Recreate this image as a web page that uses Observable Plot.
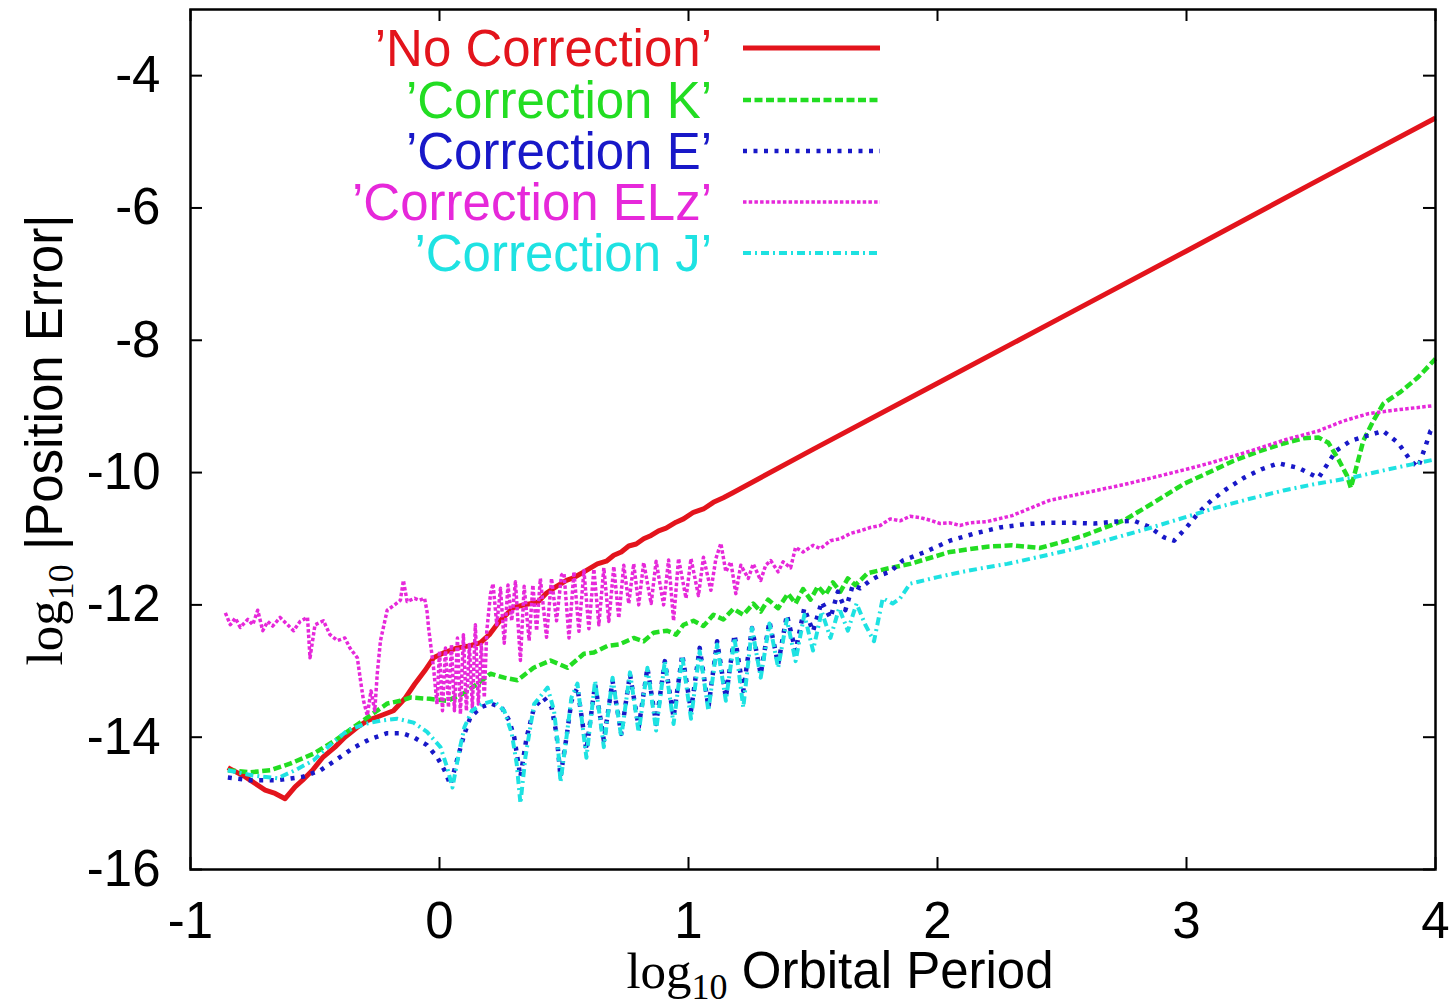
<!DOCTYPE html>
<html>
<head>
<meta charset="utf-8">
<script src="https://cdn.jsdelivr.net/npm/d3@7"></script>
<script src="https://cdn.jsdelivr.net/npm/@observablehq/plot@0.6"></script>
<style>
  html, body { margin: 0; padding: 0; background: #ffffff; }
  #chart { width: 1453px; height: 1005px; }
  svg text { font-family: "Liberation Sans", Arial, Helvetica, sans-serif; }
</style>
</head>
<body>
<div id="chart"></div>
<script>
// Axis ticks
const xTicks = [-1, 0, 1, 2, 3, 4];
const yTicks = [-16, -14, -12, -10, -8, -6, -4];

// log10 |position error| against log10 orbital period, one array per method: [x, y]
const noCorrection = [
  [-0.85,-14.46],[-0.78,-14.6],[-0.70,-14.8],[-0.66,-14.85],[-0.62,-14.93],[-0.58,-14.75],[-0.55,-14.65],
  [-0.51,-14.5],[-0.47,-14.31],[-0.42,-14.15],[-0.38,-14.0],[-0.33,-13.85],[-0.29,-13.75],[-0.24,-13.68],
  [-0.185,-13.6],[-0.14,-13.42],[-0.10,-13.2],[-0.06,-13.0],[-0.024,-12.8],[0.02,-12.72],[0.072,-12.65],
  [0.12,-12.62],[0.165,-12.57],[0.20,-12.45],[0.24,-12.25],[0.297,-12.04],[0.34,-12.0],[0.394,-11.96],
  [0.43,-11.82],[0.47,-11.72],[0.51,-11.63],[0.538,-11.59],[0.58,-11.5],[0.634,-11.38],[0.67,-11.34],
  [0.70,-11.25],[0.73,-11.2],[0.76,-11.11],[0.79,-11.08],[0.82,-11.0],[0.85,-10.95],[0.88,-10.88],
  [0.91,-10.84],[0.95,-10.75],[0.98,-10.7],[1.02,-10.6],[1.06,-10.55],[1.10,-10.45],[1.14,-10.38],
  [1.18,-10.3],[1.5,-9.65],[2.0,-8.65],[2.5,-7.65],[3.0,-6.65],[3.5,-5.64],[4.0,-4.64]
];

const correctionK = [
  [-0.85,-14.5],[-0.76,-14.53],[-0.68,-14.5],[-0.6,-14.4],[-0.506,-14.25],[-0.42,-14.05],[-0.345,-13.85],
  [-0.27,-13.65],[-0.209,-13.49],[-0.157,-13.45],[-0.116,-13.4],[-0.04,-13.42],[0.032,-13.45],[0.096,-13.34],
  [0.15,-13.2],[0.205,-13.04],[0.26,-13.1],[0.313,-13.14],[0.378,-12.95],[0.446,-12.84],[0.514,-12.95],
  [0.58,-12.74],[0.62,-12.72],[0.675,-12.62],[0.72,-12.6],[0.78,-12.5],[0.82,-12.55],[0.86,-12.42],
  [0.915,-12.39],[0.95,-12.45],[0.98,-12.3],[1.02,-12.24],[1.06,-12.32],[1.10,-12.15],[1.14,-12.22],
  [1.18,-12.06],[1.22,-12.15],[1.26,-11.98],[1.29,-12.1],[1.32,-11.92],[1.36,-12.05],[1.40,-11.83],
  [1.43,-11.98],[1.46,-11.76],[1.49,-11.92],[1.52,-11.72],[1.55,-11.85],[1.58,-11.66],[1.61,-11.8],
  [1.64,-11.6],[1.67,-11.7],[1.72,-11.52],[1.8,-11.45],[1.89,-11.38],[2.05,-11.2],[2.2,-11.12],
  [2.3,-11.1],[2.41,-11.14],[2.5,-11.05],[2.59,-10.95],[2.75,-10.72],[2.87,-10.45],[2.99,-10.17],
  [3.1,-9.98],[3.19,-9.82],[3.29,-9.68],[3.39,-9.56],[3.47,-9.48],[3.53,-9.47],[3.57,-9.55],[3.61,-9.8],
  [3.645,-10.05],[3.66,-10.23],[3.68,-9.95],[3.71,-9.52],[3.75,-9.22],[3.79,-8.96],[3.86,-8.78],
  [3.93,-8.56],[4.0,-8.28]
];

const correctionE = [
  [-0.85,-14.61],[-0.76,-14.65],[-0.65,-14.65],[-0.55,-14.6],[-0.478,-14.5],[-0.41,-14.33],[-0.345,-14.16],
  [-0.28,-14.03],[-0.21,-13.94],[-0.15,-13.94],[-0.104,-14.0],[-0.05,-14.12],[-0.008,-14.31],[0.02,-14.5],
  [0.044,-14.72],[0.07,-14.35],[0.1,-13.95],[0.124,-13.7],[0.165,-13.55],[0.205,-13.49],[0.25,-13.55],
  [0.28,-13.75],[0.30,-14.0],[0.325,-14.6],[0.35,-14.0],[0.38,-13.55],[0.418,-13.4],[0.45,-13.55],
  [0.47,-13.95],[0.486,-14.6],[0.51,-14.0],[0.53,-13.45],[0.554,-13.25],[0.59,-14.2],[0.625,-13.2],
  [0.66,-14.05],[0.695,-13.15],[0.73,-13.95],[0.765,-13.05],[0.80,-13.85],[0.835,-12.95],[0.87,-13.8],
  [0.905,-12.85],[0.94,-13.7],[0.975,-12.75],[1.01,-13.6],[1.045,-12.65],[1.08,-13.55],[1.115,-12.55],
  [1.15,-13.4],[1.185,-12.45],[1.22,-13.3],[1.255,-12.35],[1.29,-13.05],[1.325,-12.25],[1.36,-12.9],
  [1.395,-12.15],[1.43,-12.7],[1.465,-12.05],[1.50,-12.4],[1.535,-11.95],[1.57,-12.2],[1.60,-11.8],
  [1.63,-12.08],[1.66,-11.7],[1.69,-11.75],[1.73,-11.63],[1.77,-11.55],[1.81,-11.5],[1.86,-11.33],
  [1.95,-11.2],[2.05,-11.03],[2.15,-10.92],[2.25,-10.83],[2.35,-10.78],[2.45,-10.76],[2.55,-10.76],
  [2.63,-10.77],[2.72,-10.74],[2.79,-10.73],[2.85,-10.82],[2.91,-10.98],[2.95,-11.03],[3.0,-10.83],
  [3.05,-10.6],[3.1,-10.42],[3.16,-10.25],[3.23,-10.08],[3.3,-9.95],[3.37,-9.86],[3.45,-9.93],
  [3.53,-10.08],[3.57,-9.85],[3.6,-9.67],[3.66,-9.52],[3.72,-9.45],[3.79,-9.37],[3.85,-9.55],
  [3.9,-9.82],[3.93,-9.92],[3.96,-9.6],[3.98,-9.37],[4.0,-9.3]
];

const correctionELz = [
  [-0.86,-12.12],[-0.84,-12.3],[-0.82,-12.2],[-0.80,-12.34],[-0.77,-12.22],[-0.75,-12.3],[-0.73,-12.08],
  [-0.71,-12.39],[-0.69,-12.25],[-0.67,-12.32],[-0.64,-12.19],[-0.61,-12.3],[-0.586,-12.39],[-0.56,-12.25],
  [-0.53,-12.19],[-0.52,-12.8],[-0.50,-12.3],[-0.466,-12.24],[-0.44,-12.45],[-0.41,-12.54],[-0.38,-12.5],
  [-0.36,-12.65],[-0.33,-12.8],[-0.315,-13.2],[-0.305,-13.45],[-0.29,-13.67],[-0.275,-13.3],[-0.26,-13.6],
  [-0.25,-13.04],[-0.237,-12.54],[-0.21,-12.08],[-0.18,-12.0],[-0.157,-11.93],[-0.145,-11.63],[-0.13,-11.95],
  [-0.10,-11.9],[-0.08,-11.93],[-0.06,-11.9],[-0.05,-12.1],[-0.044,-12.34],[-0.024,-12.95],[-0.01,-13.5],
  [0.0,-12.7],[0.012,-13.6],[0.024,-12.65],[0.036,-13.55],[0.048,-12.6],[0.06,-13.6],[0.072,-12.5],
  [0.084,-13.65],[0.096,-12.45],[0.108,-13.6],[0.12,-12.6],[0.132,-13.55],[0.144,-12.3],[0.156,-13.5],
  [0.168,-12.6],[0.18,-13.4],[0.19,-12.39],[0.205,-11.83],[0.215,-11.68],[0.23,-12.3],[0.245,-11.75],
  [0.26,-12.58],[0.275,-11.7],[0.29,-12.24],[0.305,-11.65],[0.325,-12.84],[0.34,-11.72],[0.36,-12.54],
  [0.375,-11.7],[0.39,-12.39],[0.405,-11.6],[0.43,-12.49],[0.45,-11.6],[0.47,-12.24],[0.49,-11.55],
  [0.50,-11.52],[0.52,-12.5],[0.54,-11.5],[0.56,-12.4],[0.58,-11.48],[0.60,-12.36],[0.62,-11.46],
  [0.64,-12.3],[0.66,-11.44],[0.68,-12.25],[0.70,-11.42],[0.72,-12.2],[0.74,-11.4],[0.76,-11.98],
  [0.78,-11.38],[0.80,-12.0],[0.82,-11.36],[0.85,-11.98],[0.87,-11.34],[0.90,-12.0],[0.92,-11.32],
  [0.94,-12.24],[0.96,-11.3],[0.99,-11.9],[1.01,-11.3],[1.04,-11.86],[1.06,-11.28],[1.09,-11.78],
  [1.11,-11.3],[1.13,-11.07],[1.15,-11.5],[1.17,-11.35],[1.19,-11.83],[1.21,-11.4],[1.24,-11.6],
  [1.26,-11.38],[1.29,-11.63],[1.31,-11.4],[1.33,-11.33],[1.36,-11.5],[1.38,-11.35],[1.41,-11.44],
  [1.43,-11.13],[1.46,-11.2],[1.50,-11.1],[1.53,-11.15],[1.57,-11.03],[1.61,-11.0],[1.65,-10.92],
  [1.69,-10.88],[1.73,-10.83],[1.77,-10.8],[1.81,-10.7],[1.85,-10.73],[1.89,-10.66],[1.93,-10.68],
  [1.97,-10.72],[2.01,-10.77],[2.05,-10.76],[2.09,-10.8],[2.13,-10.76],[2.2,-10.74],[2.3,-10.65],
  [2.45,-10.42],[2.6,-10.3],[2.75,-10.18],[2.86,-10.08],[3.0,-9.95],[3.1,-9.85],[3.26,-9.67],
  [3.4,-9.5],[3.53,-9.37],[3.63,-9.22],[3.73,-9.11],[3.85,-9.05],[3.99,-8.99]
];

const correctionJ = [
  [-0.85,-14.5],[-0.75,-14.58],[-0.65,-14.62],[-0.58,-14.5],[-0.506,-14.35],[-0.44,-14.12],[-0.37,-13.9],
  [-0.30,-13.8],[-0.237,-13.75],[-0.17,-13.72],[-0.104,-13.78],[-0.05,-13.92],[0.004,-14.15],[0.03,-14.45],
  [0.052,-14.76],[0.08,-14.2],[0.1,-13.85],[0.13,-13.6],[0.17,-13.5],[0.217,-13.45],[0.26,-13.6],
  [0.29,-13.94],[0.31,-14.4],[0.325,-15.0],[0.345,-14.3],[0.38,-13.5],[0.434,-13.25],[0.46,-13.6],
  [0.475,-14.1],[0.486,-14.68],[0.51,-14.0],[0.53,-13.4],[0.554,-13.19],[0.59,-14.31],[0.625,-13.15],
  [0.66,-14.15],[0.695,-13.1],[0.73,-14.0],[0.765,-13.02],[0.80,-13.93],[0.835,-12.95],[0.87,-13.9],
  [0.905,-12.85],[0.94,-13.8],[0.975,-12.78],[1.01,-13.72],[1.045,-12.7],[1.08,-13.6],[1.115,-12.6],
  [1.15,-13.45],[1.185,-12.5],[1.22,-13.55],[1.255,-12.35],[1.29,-13.1],[1.325,-12.28],[1.36,-12.95],
  [1.395,-12.22],[1.43,-12.85],[1.465,-12.15],[1.50,-12.69],[1.535,-12.1],[1.57,-12.5],[1.605,-12.05],
  [1.64,-12.39],[1.675,-11.98],[1.71,-12.3],[1.745,-12.55],[1.78,-11.9],[1.82,-11.98],[1.85,-11.9],
  [1.89,-11.68],[2.0,-11.58],[2.1,-11.5],[2.2,-11.43],[2.28,-11.38],[2.4,-11.28],[2.52,-11.18],
  [2.7,-11.0],[2.86,-10.83],[3.0,-10.67],[3.12,-10.53],[3.25,-10.4],[3.39,-10.27],[3.52,-10.17],
  [3.66,-10.08],[3.8,-9.96],[3.9,-9.88],[4.0,-9.8]
];

const seriesNames = ["’No Correction’", "’Correction K’", "’Correction E’", "’Correction ELz’", "’Correction J’"];
const seriesColors = ["#e3141c", "#22dd22", "#1818c8", "#e628da", "#1ee2e2"];

// line styles in the gnuplot spirit: solid, dashed, dotted, fine dotted, dash-dot
const styles = [
  {strokeWidth: 5, dash: null},
  {strokeWidth: 4.5, dash: "8,3.5"},
  {strokeWidth: 4.5, dash: "4,6.5"},
  {strokeWidth: 3.5, dash: "3.5,2.2"},
  {strokeWidth: 4, dash: "8,4,2,4"}
];

const seriesData = [noCorrection, correctionK, correctionE, correctionELz, correctionJ];
const rows = seriesData.map(d => d.map(([x, y]) => ({x, y})));

const W = 1453, H = 1005;
const mLeft = 190, mRight = 18, mTop = 9, mBottom = 136;
const innerW = W - mLeft - mRight, innerH = H - mTop - mBottom;
const tickLen = 12;
const sans = "Liberation Sans, Arial, Helvetica, sans-serif";
const fontPx = 51;

const lineMarks = rows.map((data, i) => Plot.line(data, {
  x: "x", y: "y",
  stroke: seriesColors[i],
  strokeWidth: styles[i].strokeWidth,
  strokeDasharray: styles[i].dash ?? undefined,
  strokeLinecap: "butt",
  strokeLinejoin: "round"
}));

const chart = Plot.plot({
  width: W, height: H,
  marginLeft: mLeft, marginRight: mRight, marginTop: mTop, marginBottom: mBottom,
  x: {domain: [-1, 4]},
  y: {domain: [-16, -3]},
  style: {fontFamily: sans, fontSize: fontPx + "px", color: "black", background: "white", overflow: "visible"},
  marks: [
    ...lineMarks,
    // inward ticks on all four sides
    Plot.ruleX(xTicks, {x: d => d, insetTop: innerH - tickLen, stroke: "black", strokeWidth: 2}),
    Plot.ruleX(xTicks, {x: d => d, insetBottom: innerH - tickLen, stroke: "black", strokeWidth: 2}),
    Plot.ruleY(yTicks, {y: d => d, insetRight: innerW - tickLen, stroke: "black", strokeWidth: 2}),
    Plot.ruleY(yTicks, {y: d => d, insetLeft: innerW - tickLen, stroke: "black", strokeWidth: 2}),
    Plot.axisX(xTicks, {anchor: "bottom", tickSize: 0, tickPadding: 32, tickFormat: d => String(d), label: null, fontSize: fontPx}),
    Plot.axisY(yTicks, {anchor: "left", tickSize: 0, tickPadding: 30, tickFormat: d => String(d), label: null, fontSize: fontPx}),
    Plot.frame({stroke: "black", strokeWidth: 2.5})
  ]
});

document.getElementById("chart").appendChild(chart);

const svg = d3.select(chart);

// legend: right-aligned labels with a short line sample beside each
const legendRowY = [48, 100, 151, 202, 253];
const legend = svg.append("g");
seriesNames.forEach((name, i) => {
  legend.append("text")
    .attr("x", 712).attr("y", legendRowY[i]).attr("dy", "0.35em")
    .attr("text-anchor", "end")
    .attr("fill", seriesColors[i])
    .style("font-family", sans).style("font-size", fontPx + "px")
    .text(name);
  legend.append("line")
    .attr("x1", 743).attr("x2", 880)
    .attr("y1", legendRowY[i]).attr("y2", legendRowY[i])
    .attr("stroke", seriesColors[i])
    .attr("stroke-width", styles[i].strokeWidth)
    .attr("stroke-dasharray", styles[i].dash)
    .attr("stroke-linecap", "butt");
});

// axis titles with a serif "log" and subscript 10
function axisTitle(g, rest) {
  g.append("tspan").style("font-family", "Liberation Serif, Times New Roman, serif").text("log");
  g.append("tspan").style("font-family", "Liberation Serif, Times New Roman, serif")
    .style("font-size", "36px").attr("dy", "11").text("10");
  g.append("tspan").attr("dy", "-11").style("font-family", sans).text(rest);
}

const xTitle = svg.append("text")
  .attr("x", 840).attr("y", 988)
  .attr("text-anchor", "middle").attr("fill", "black")
  .style("font-size", fontPx + "px");
axisTitle(xTitle, " Orbital Period");

const yTitle = svg.append("text")
  .attr("transform", "translate(62,440) rotate(-90)")
  .attr("text-anchor", "middle").attr("fill", "black")
  .style("font-size", fontPx + "px");
axisTitle(yTitle, " |Position Error|");
</script>
</body>
</html>
